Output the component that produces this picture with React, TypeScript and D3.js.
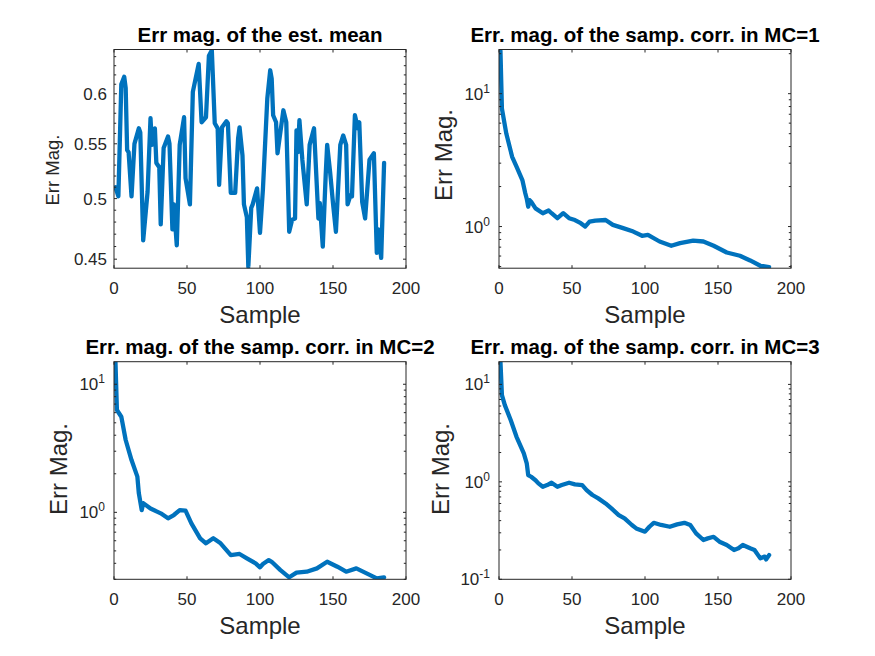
import React from "react";
import * as d3 from "d3";

// ---------- data ----------
const meanSamples = [1, 3, 5, 7, 8, 9, 10, 12, 14, 17, 18, 20, 23, 25, 26, 28, 29, 31, 32, 34, 37, 38, 40, 41, 43, 45, 48, 49, 52, 54, 58, 60, 63, 65, 67, 69, 71, 72, 74, 77, 78, 80, 83, 85, 86, 88, 89, 91, 92, 94, 95, 98, 100, 102, 105, 107, 108, 109, 111, 112, 116, 118, 120, 122, 124, 125, 126, 127, 129, 132, 134, 137, 140, 141, 143, 145, 146, 148, 150, 152, 155, 157, 159, 160, 162, 163, 165, 167, 168, 170, 172, 175, 178, 180, 181, 183, 185];
const meanErr = [0.510, 0.502, 0.610, 0.618, 0.606, 0.544, 0.542, 0.502, 0.550, 0.565, 0.561, 0.465, 0.506, 0.575, 0.549, 0.565, 0.532, 0.528, 0.478, 0.546, 0.557, 0.550, 0.474, 0.495, 0.461, 0.549, 0.576, 0.518, 0.495, 0.602, 0.632, 0.571, 0.576, 0.641, 0.647, 0.570, 0.565, 0.512, 0.566, 0.572, 0.570, 0.505, 0.505, 0.555, 0.566, 0.539, 0.495, 0.484, 0.444, 0.492, 0.495, 0.509, 0.471, 0.508, 0.595, 0.625, 0.616, 0.578, 0.571, 0.541, 0.583, 0.571, 0.472, 0.482, 0.483, 0.563, 0.542, 0.573, 0.535, 0.495, 0.549, 0.565, 0.483, 0.496, 0.460, 0.521, 0.549, 0.524, 0.496, 0.472, 0.549, 0.558, 0.549, 0.495, 0.503, 0.502, 0.578, 0.565, 0.571, 0.497, 0.483, 0.535, 0.541, 0.455, 0.474, 0.451, 0.532];

const mc1Samples = [1, 2, 5, 9, 12, 16, 18, 19, 20, 21, 22, 25, 30, 34, 36, 40, 44, 48, 52, 56, 59, 62, 66, 73, 78, 85, 92, 98, 102, 110, 118, 124, 133, 140, 147, 156, 165, 172, 179, 185];
const mc1Err = [21, 7.72, 5.01, 3.35, 2.82, 2.24, 1.78, 1.62, 1.41, 1.58, 1.54, 1.37, 1.26, 1.32, 1.26, 1.156, 1.26, 1.156, 1.12, 1.06, 1.0, 1.09, 1.11, 1.12, 1.03, 0.973, 0.917, 0.852, 0.867, 0.772, 0.717, 0.751, 0.785, 0.772, 0.717, 0.638, 0.603, 0.556, 0.507, 0.496];

const mc2Samples = [1, 2, 5, 8, 12, 16, 17, 19, 20, 25, 32, 37, 41, 45, 49, 53, 59, 63, 68, 73, 80, 86, 91, 97, 100, 102, 106, 108, 114, 120, 125, 132, 139, 146, 153, 159, 166, 173, 180, 185];
const mc2Err = [15, 6.29, 5.58, 3.67, 2.56, 1.90, 1.41, 1.04, 1.18, 1.07, 0.982, 0.898, 0.953, 1.04, 1.03, 0.821, 0.627, 0.573, 0.627, 0.573, 0.464, 0.473, 0.4375, 0.400, 0.372, 0.395, 0.424, 0.411, 0.354, 0.311, 0.338, 0.344, 0.365, 0.411, 0.376, 0.344, 0.365, 0.334, 0.305, 0.311];

const mc3Samples = [1, 2, 4, 8, 12, 17, 19, 20, 22, 25, 27, 30, 33, 36, 40, 43, 48, 52, 57, 60, 64, 68, 73, 77, 82, 86, 91, 94, 100, 103, 106, 111, 117, 122, 127, 131, 135, 140, 143, 147, 151, 156, 161, 164, 167, 172, 175, 179, 182, 183, 185];
const mc3Err = [17, 7.77, 6.13, 4.31, 2.90, 1.96, 1.55, 1.175, 1.128, 1.04, 0.965, 0.89, 0.927, 0.979, 0.89, 0.927, 0.979, 0.942, 0.927, 0.824, 0.733, 0.677, 0.601, 0.534, 0.456, 0.422, 0.361, 0.333, 0.308, 0.346, 0.380, 0.361, 0.346, 0.366, 0.380, 0.361, 0.296, 0.253, 0.263, 0.273, 0.243, 0.225, 0.20, 0.208, 0.225, 0.208, 0.20, 0.164, 0.171, 0.16, 0.177];

const xTicks = [0, 50, 100, 150, 200];
const meanTicks = [0.45, 0.5, 0.55, 0.6];
const meanTickLabels = ["0.45", "0.5", "0.55", "0.6"];
const logTicks = [0.1, 1, 10];
const logTickExps = ["-1", "0", "1"];

const titles = [
  "Err mag. of the est. mean",
  "Err. mag. of the samp. corr. in MC=1",
  "Err. mag. of the samp. corr. in MC=2",
  "Err. mag. of the samp. corr. in MC=3",
];

const FONT = "'Liberation Sans', Arial, Helvetica, sans-serif";
const AX = "#262626";
const LINE = "#0072BD";

type Panel = {
  x0: number; x1: number; y0: number; y1: number;
  dom: [number, number];
  xs: number[]; ys: number[];
  title: string;
  kind: "mean" | "log";
  ylab: { size: number; dx: number; cy: number };
};

const panels: Panel[] = [
  { x0: 114, x1: 406, y0: 49.5, y1: 268.2, dom: [0.443, 0.648], xs: meanSamples, ys: meanErr, title: titles[0], kind: "mean", ylab: { size: 18.5, dx: -55.5, cy: 170 } },
  { x0: 499, x1: 791, y0: 49.5, y1: 268.2, dom: [0.486, 21.5], xs: mc1Samples, ys: mc1Err, title: titles[1], kind: "log", ylab: { size: 24, dx: -47, cy: 155 } },
  { x0: 114, x1: 406, y0: 361.7, y1: 579.3, dom: [0.30, 15], xs: mc2Samples, ys: mc2Err, title: titles[2], kind: "log", ylab: { size: 24, dx: -47, cy: 469 } },
  { x0: 499, x1: 791, y0: 361.7, y1: 579.3, dom: [0.1, 17.1], xs: mc3Samples, ys: mc3Err, title: titles[3], kind: "log", ylab: { size: 24, dx: -50, cy: 469 } },
];

function PanelView({ p, idx }: { p: Panel; idx: number }) {
  const x = d3.scaleLinear().domain([0, 200]).range([p.x0, p.x1]);
  const y = d3.scaleLog().domain(p.dom).range([p.y1, p.y0]);
  const pts = p.xs.map((s, i) => [s, p.ys[i]] as [number, number]);
  const line = d3.line<[number, number]>().x((d) => x(d[0])).y((d) => y(d[1]));
  const [lo, hi] = p.dom;

  let major: number[];
  let minor: number[] = [];
  if (p.kind === "mean") {
    major = meanTicks;
    minor = d3.range(44, 65).map((v) => v / 100).filter((v) => v >= lo && v <= hi && !meanTicks.some((m) => Math.abs(m - v) < 1e-9));
  } else {
    major = logTicks.filter((v) => v >= lo * 0.999 && v <= hi * 1.001);
    for (let k = -2; k <= 2; k++) {
      for (let m = 2; m <= 9; m++) {
        const v = m * Math.pow(10, k);
        if (v >= lo && v <= hi) minor.push(v);
      }
    }
  }
  const TL = 3;
  const TLm = 2.2;
  const clipId = `clip${idx}`;
  const cx = (p.x0 + p.x1) / 2;

  return (
    <g>
      <defs>
        <clipPath id={clipId}>
          <rect x={p.x0} y={p.y0} width={p.x1 - p.x0} height={p.y1 - p.y0} />
        </clipPath>
      </defs>
      <rect x={p.x0} y={p.y0} width={p.x1 - p.x0} height={p.y1 - p.y0} fill="#fff" />
      <path d={line(pts) || ""} fill="none" stroke={LINE} strokeWidth={4.3} strokeLinejoin="round" strokeLinecap="round" clipPath={`url(#${clipId})`} />
      {xTicks.map((t) => (
        <g key={"xt" + t}>
          <line x1={x(t)} x2={x(t)} y1={p.y1} y2={p.y1 - TL} stroke={AX} strokeWidth={1} />
          <line x1={x(t)} x2={x(t)} y1={p.y0} y2={p.y0 + TL} stroke={AX} strokeWidth={1} />
          <text x={x(t)} y={p.y1 + 26} textAnchor="middle" fontSize={17} fill={AX} fontFamily={FONT}>{t}</text>
        </g>
      ))}
      {minor.map((t) => (
        <g key={"ym" + t}>
          <line x1={p.x0} x2={p.x0 + TLm} y1={y(t)} y2={y(t)} stroke={AX} strokeWidth={1} />
          <line x1={p.x1} x2={p.x1 - TLm} y1={y(t)} y2={y(t)} stroke={AX} strokeWidth={1} />
        </g>
      ))}
      {major.map((t) => (
        <g key={"yt" + t}>
          <line x1={p.x0} x2={p.x0 + TL} y1={y(t)} y2={y(t)} stroke={AX} strokeWidth={1} />
          <line x1={p.x1} x2={p.x1 - TL} y1={y(t)} y2={y(t)} stroke={AX} strokeWidth={1} />
          {p.kind === "mean" ? (
            <text x={p.x0 - 7} y={y(t)} dy="0.35em" textAnchor="end" fontSize={17} fill={AX} fontFamily={FONT}>
              {meanTickLabels[meanTicks.indexOf(t)]}
            </text>
          ) : (
            <text x={p.x0 - 9} y={y(t)} dy="0.35em" textAnchor="end" fontSize={17} fill={AX} fontFamily={FONT}>
              10
              <tspan dy={-7} fontSize={12}>{logTickExps[logTicks.indexOf(t)]}</tspan>
            </text>
          )}
        </g>
      ))}
      <rect x={p.x0} y={p.y0} width={p.x1 - p.x0} height={p.y1 - p.y0} fill="none" stroke={AX} strokeWidth={1} />
      <text x={cx} y={p.y1 + 55} textAnchor="middle" fontSize={24} fill={AX} fontFamily={FONT}>Sample</text>
      <text transform={`translate(${p.x0 + p.ylab.dx},${p.ylab.cy}) rotate(-90)`} textAnchor="middle" fontSize={p.ylab.size} fill={AX} fontFamily={FONT}>Err Mag.</text>
      <text x={cx} y={p.y0 - 7.5} textAnchor="middle" fontSize={20.5} fontWeight="bold" fill="#000" fontFamily={FONT}>{p.title}</text>
    </g>
  );
}

export default function App() {
  return (
    <div style={{ position: "absolute", left: 0, top: 0, width: 875, height: 656, background: "#fff" }}>
      <svg width={875} height={656} viewBox="0 0 875 656" style={{ display: "block" }}>
        <rect x={0} y={0} width={875} height={656} fill="#fff" />
        {panels.map((p, i) => (
          <PanelView key={i} p={p} idx={i} />
        ))}
      </svg>
    </div>
  );
}
